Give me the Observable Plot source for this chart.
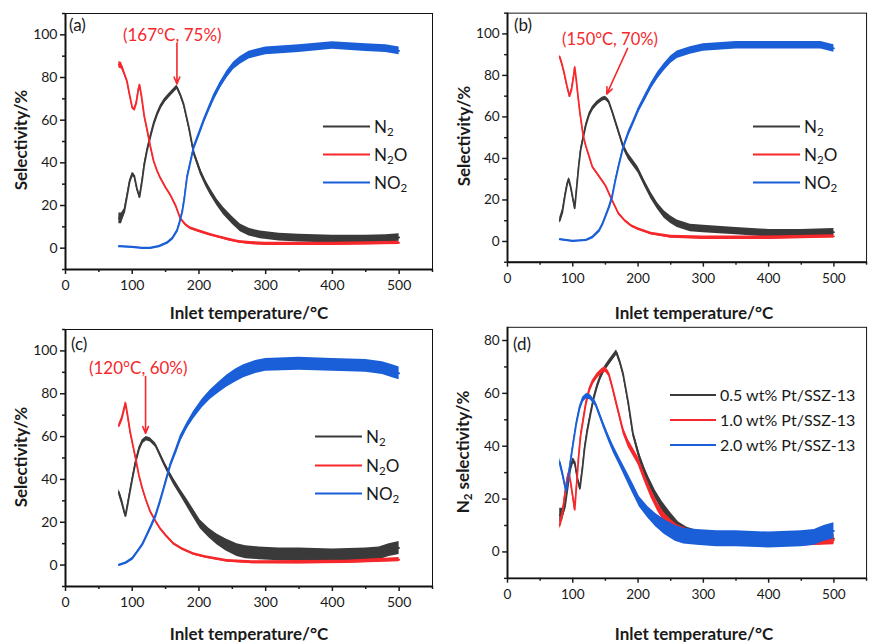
<!DOCTYPE html>
<html><head><meta charset="utf-8">
<script src="https://cdn.jsdelivr.net/npm/d3@7"></script>
<script src="https://cdn.jsdelivr.net/npm/@observablehq/plot@0.6"></script>
<style>
body{margin:0;background:#fff;font-family:Lato,sans-serif;}
#root{position:relative;width:869px;height:642px;overflow:hidden;background:#fff;}
.panel{position:absolute;}
.t{position:absolute;white-space:nowrap;color:#1a1a1a;line-height:1;}
.xt{font-weight:bold;font-size:17px;transform:translate(-50%,-50%);}
.yt{font-weight:bold;font-size:17px;transform:translate(-50%,-50%) rotate(-90deg);}
.pl{font-size:17px;}
.leg{position:absolute;display:flex;align-items:center;font-size:17px;color:#1a1a1a;line-height:1;white-space:nowrap;transform:translateY(-50%);}
.leg.small{font-size:16px;}
.leg svg{margin-right:4px;}
sub{font-size:0.68em;vertical-align:-0.3em;line-height:0;}
</style></head><body><div id="root"></div>
<script>
// ---- data: [temperature °C, selectivity %, noise half-width %] ----
const n2_05 = [[80,14,2.5],[84,14,2.5],[88,17,1.5],[92,24,1],[96,31,1],[100,34.5,1],[103,34,1],[107,28,1],[111,24,1],[115,32,1],[118,39,1],[122,45.5,1],[127,52,1],[132,58,1],[137,62.5,1],[142,66,1],[148,69,1],[155,71.5,1],[161,73.5,1],[167,75.5,1],[172,72,1],[177,67.5,1],[181,62,1],[185,56.5,1.2],[192,45,1.2],[202,36,1.5],[210,30.5,1.5],[217,26.5,1.6],[227,21.5,1.6],[237,17.3,1.8],[250,13,1.8],[262,9.5,1.8],[275,7.5,1.8],[292,6.2,1.8],[320,5.2,1.8],[350,4.7,1.8],[400,4.2,1.8],[450,4.2,1.8],[480,4.5,1.8],[500,5,1.8]];
const n2o_05 = [[80,86,1.5],[84,85.5,1.5],[88,82,1],[92,78.5,0.8],[96,72,0.7],[100,66,0.7],[103,65,0.7],[106,68,0.7],[109,74,0.7],[111,76.5,0.7],[114,71,0.7],[118,62,0.7],[122,56,0.7],[127,48,0.7],[132,41,0.6],[137,36.5,0.6],[142,33,0.6],[150,28.5,0.6],[157,25,0.6],[165,20,0.6],[172,14,0.6],[180,11,0.6],[187,9.4,0.6],[200,8,0.6],[215,6.5,0.6],[227,5.5,0.6],[245,4,0.6],[260,3,0.6],[277,2.4,0.7],[300,2,0.8],[400,2,0.8],[500,2.5,0.8]];
const no2_05 = [[80,0.8,0.4],[100,0.5,0.4],[115,0,0.4],[127,0,0.4],[140,0.8,0.4],[152,2.4,0.5],[160,4.5,0.5],[167,8,0.6],[171,12,0.8],[175,17,1],[178,23,1],[182,33,1],[187,40,1],[192,47,1],[200,53.5,1.2],[207,59.5,1.2],[215,65.5,1.3],[222,70.5,1.5],[232,76.5,1.5],[242,81.5,1.7],[252,85.5,1.8],[262,88,1.8],[275,90.5,1.8],[300,92.5,1.8],[350,93.5,1.8],[400,95,1.8],[450,94,1.8],[480,93.5,1.8],[500,92.5,1.8]];

const n2_10 = [[80,10,1.5],[84,14,1.5],[88,22,1],[91,27,1],[94,30,1],[97,26,1],[100,21,1],[103,16,1],[106,26,1],[109,36,1],[112,44,1],[116,50,1],[120,56,1],[125,61,1],[130,64,1],[137,66.5,1],[145,68.5,1],[150,69,1],[155,67.5,1],[160,63,1],[165,58,1.2],[172,51,1.2],[177,46,1.3],[185,41,1.5],[192,38,1.5],[200,34.5,1.5],[210,28,1.5],[220,22,1.6],[230,17,1.6],[240,13,1.8],[250,10.5,1.8],[260,8.5,1.8],[280,6.5,1.8],[300,6,1.8],[350,5,1.8],[400,4,1.8],[450,4,1.8],[500,4.5,1.8]];
const n2o_10 = [[80,89,1],[83,86,1],[87,81,1],[91,75,0.8],[95,70,0.8],[98,73,0.8],[101,79,0.8],[103,84,0.8],[105,79,0.8],[108,70,0.8],[111,62,0.7],[116,51,0.7],[120,46,0.6],[125,41,0.6],[130,36,0.6],[140,31.5,0.6],[150,27,0.6],[160,20,0.6],[170,13.5,0.6],[180,10,0.6],[190,7.5,0.6],[200,6,0.6],[220,3.8,0.6],[250,2.3,0.7],[300,1.8,0.8],[400,1.8,0.8],[500,2.5,0.8]];
const no2_10 = [[80,1,0.4],[100,0.2,0.4],[120,0.6,0.4],[130,2,0.5],[140,5,0.6],[145,8,0.7],[150,12,0.8],[155,16,1],[160,21,1],[165,29,1],[170,36,1],[177,45,1],[185,52,1.2],[192,57,1.2],[200,63,1.2],[210,69,1.5],[220,75,1.5],[230,80,1.7],[240,84,1.8],[250,87.5,1.8],[260,90,1.8],[280,92,1.8],[300,93.5,1.8],[350,94.5,1.8],[400,94.5,1.8],[450,94.5,1.8],[480,94.5,1.8],[500,93,1.8]];

const n2_20 = [[80,34,1.5],[84,30,1.5],[88,25,1],[90,23,1],[93,28,1],[97,35,1],[100,40,1],[105,48,1],[110,54,1],[115,57.5,1],[121,59,1],[127,58.5,1],[135,56,1],[147,48,1.2],[155,43,1.3],[162,39,1.5],[172,34,1.5],[182,29,1.8],[192,24,2],[202,19,2],[215,15,2.2],[227,12,2.5],[240,9.5,2.8],[257,7,3],[270,6,3],[290,5.5,3],[320,5,3],[350,5,3],[400,4.5,3],[450,5,3],[470,5.5,3],[485,7,3],[500,8,3]];
const n2o_20 = [[80,65,1],[84,68,1],[88,73,1],[90,75.6,1],[93,70,1],[97,62,0.8],[101,56,0.7],[105,50,0.7],[110,42,0.6],[115,36,0.6],[120,31,0.6],[127,25,0.6],[135,20.5,0.6],[142,17,0.6],[150,14,0.6],[162,10,0.6],[175,7.5,0.6],[192,5.2,0.6],[210,3.8,0.6],[242,2,0.6],[280,1.3,0.7],[350,1.3,0.8],[420,1.5,0.8],[500,2.5,1]];
const no2_20 = [[80,0,0.4],[90,1,0.4],[100,3,0.5],[107,6,0.5],[115,9.5,0.6],[122,14,0.8],[128,18,0.8],[135,23,1],[141,29,1],[147,35.5,1],[152,41,1.2],[157,46.5,1.2],[165,53,1.3],[172,59,1.5],[182,65,1.5],[192,70,1.8],[205,75.5,2],[217,79.5,2.2],[230,83,2.5],[242,86,2.8],[255,88.5,3],[267,90.5,3],[285,92.5,3],[300,93.5,3],[350,94,3],[400,93.5,3],[450,93,3],[475,92,3],[490,90.5,3],[500,89.5,3]];

const gasNames = ["N<sub>2</sub>", "N<sub>2</sub>O", "NO<sub>2</sub>"];
const loadingNames = ["0.5 wt% Pt/SSZ-13", "1.0 wt% Pt/SSZ-13", "2.0 wt% Pt/SSZ-13"];
const panelLetters = ["(a)", "(b)", "(c)", "(d)"];
// peak annotations: label, peak T, peak value
const peakLabels = ["(167°C, 75%)", "(150°C, 70%)", "(120°C, 60%)"];
const peakT = [167, 150, 120];
const peakV = [75, 70, 60];
const xMajor = [0, 100, 200, 300, 400, 500];
const xMinor = [50, 150, 250, 350, 450, 550];
const yMajorSel = [0, 20, 40, 60, 80, 100];
const yMinorSel = [-10, 10, 30, 50, 70, 90, 110];
const yMajorN2 = [0, 20, 40, 60, 80];
const yMinorN2 = [-10, 10, 30, 50, 70];

const colors = ["#3a3a3a", "#f5282c", "#1b5fd8"];
const red = "#f5282c";

// ---- layout ----
const panels = [
  {left:0, top:0, w:435, h:320, mt:13, mb:51, ml:65, ydom:[-10,110], series:[n2_05,n2o_05,no2_05], yM:yMajorSel, ym:yMinorSel,
   anno:{i:0, ax1:167, ay1:96, ax2:167, ay2:77, tx:160, ty:99.5}},
  {left:435, top:0, w:446, h:320, mt:13, mb:51, ml:74, ydom:[-10,110], series:[n2_10,n2o_10,no2_10], yM:yMajorSel, ym:yMinorSel,
   anno:{i:1, ax1:184, ay1:93, ax2:152, ay2:71, tx:157, ty:97}},
  {left:0, top:320, w:435, h:322, mt:9, mb:56, ml:65, ydom:[-10,110], series:[n2_20,n2o_20,no2_20], yM:yMajorSel, ym:yMinorSel,
   anno:{i:2, ax1:120, ay1:88, ax2:120, ay2:61.5, tx:109, ty:92}},
  {left:435, top:320, w:446, h:322, mt:7, mb:57, ml:74, ydom:[-10,85], series:[n2_05,n2_10,n2_20], yM:yMajorN2, ym:yMinorN2, anno:null}
];

const root = document.getElementById("root");
const X = d => d[0], Y = d => d[1];

panels.forEach((p, k) => {
  const marks = [];
  p.series.forEach((s, j) => {
    marks.push(Plot.areaY(s, {x: X, y1: d => d[1] - d[2], y2: d => d[1] + d[2], fill: colors[j]}));
    marks.push(Plot.line(s, {x: X, y: Y, stroke: colors[j], strokeWidth: 1.8}));
  });
  if (p.anno) {
    const a = p.anno;
    marks.push(Plot.arrow([a], {x1: "ax1", y1: "ay1", x2: "ax2", y2: "ay2", stroke: red, strokeWidth: 1.6, headLength: 7, headAngle: 45}));
    marks.push(Plot.text([a], {x: "tx", y: "ty", text: () => peakLabels[a.i], fill: red, fontSize: 17, fontFamily: "Lato"}));
  }
  marks.push(Plot.frame({stroke: "#111", strokeWidth: 1}));
  marks.push(Plot.ruleX([0], {stroke: "#111", strokeWidth: 2}));
  marks.push(Plot.ruleY([p.ydom[0]], {stroke: "#111", strokeWidth: 2}));
  marks.push(Plot.axisX({ticks: xMajor, tickSize: 5, tickPadding: 6, strokeWidth: 1.5, fontSize: 14, label: null}));
  marks.push(Plot.axisX({ticks: xMinor, tickSize: 3, strokeWidth: 1.5, tickFormat: () => "", label: null}));
  marks.push(Plot.axisY({ticks: p.yM, tickSize: 5, tickPadding: 3, strokeWidth: 1.5, fontSize: 14, label: null}));
  marks.push(Plot.axisY({ticks: p.ym, tickSize: 3, strokeWidth: 1.5, tickFormat: () => "", label: null}));

  const chart = Plot.plot({
    width: p.w, height: p.h,
    marginLeft: p.ml, marginRight: 3, marginTop: p.mt, marginBottom: p.mb,
    x: {domain: [0, 550]},
    y: {domain: p.ydom},
    style: {fontFamily: "Lato", fontSize: "14px", color: "#1a1a1a", background: "transparent", overflow: "visible"},
    marks
  });
  const holder = document.createElement("div");
  holder.className = "panel";
  holder.style.left = p.left + "px";
  holder.style.top = p.top + "px";
  holder.appendChild(chart);
  root.appendChild(holder);
});

function addText(cls, html, x, y) {
  const d = document.createElement("div");
  d.className = "t " + cls;
  d.innerHTML = html;
  d.style.left = x + "px";
  d.style.top = y + "px";
  root.appendChild(d);
}
// panel letters
addText("pl", panelLetters[0], 69, 16);
addText("pl", panelLetters[1], 514, 16);
addText("pl", panelLetters[2], 71, 335);
addText("pl", panelLetters[3], 513, 335);
// x titles
addText("xt", "Inlet temperature/°C", 249, 312);
addText("xt", "Inlet temperature/°C", 694, 312);
addText("xt", "Inlet temperature/°C", 249, 633);
addText("xt", "Inlet temperature/°C", 694, 633);
// y titles
addText("yt", "Selectivity/%", 20, 140);
addText("yt", "Selectivity/%", 463, 136);
addText("yt", "Selectivity/%", 20, 457);
addText("yt", "N<sub>2</sub> selectivity/%", 462, 452);

function addLegend(names, x, ys, lineW, cls) {
  names.forEach((n, j) => {
    const d = document.createElement("div");
    d.className = "leg" + (cls ? " " + cls : "");
    d.style.left = x + "px";
    d.style.top = ys[j] + "px";
    d.innerHTML = `<svg width="${lineW}" height="4"><line x1="0" x2="${lineW}" y1="2" y2="2" stroke="${colors[j]}" stroke-width="2"/></svg><span>${n}</span>`;
    root.appendChild(d);
  });
}
addLegend(gasNames, 323, [126, 154, 182], 47);
addLegend(gasNames, 753, [126, 154, 182], 47);
addLegend(gasNames, 315, [436, 465, 493], 47);
addLegend(loadingNames, 670, [395, 420, 445], 46, "small");
</script></body></html>
